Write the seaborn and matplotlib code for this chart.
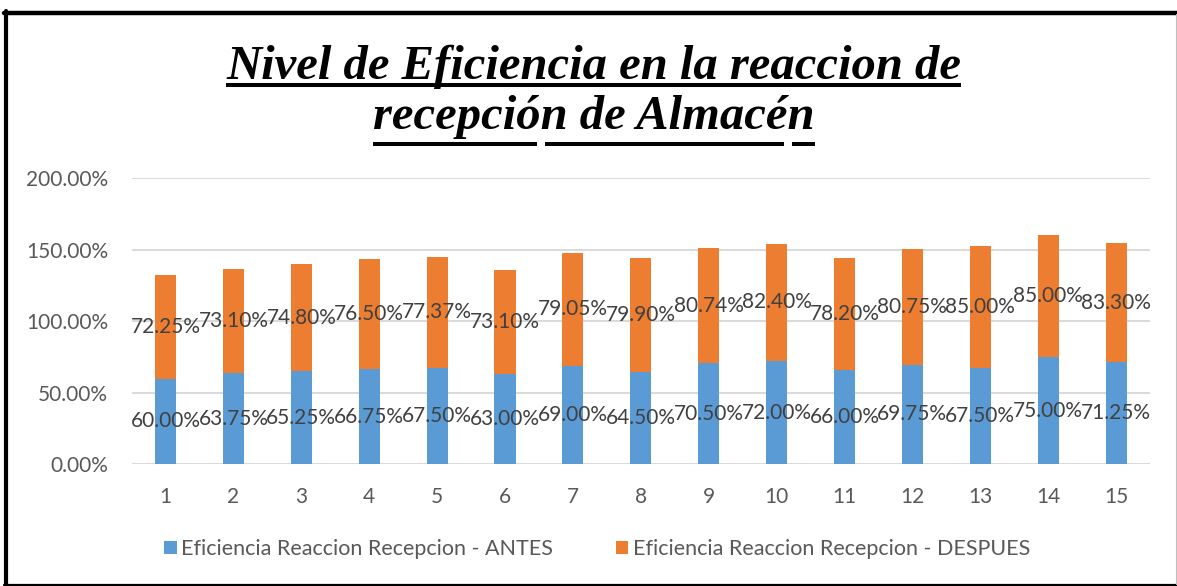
import matplotlib
matplotlib.use("Agg")
import matplotlib.pyplot as plt
import seaborn as sns
import pandas as pd
from matplotlib.patches import Patch
from matplotlib.lines import Line2D

# ---------------- data ----------------
dias = [str(i) for i in range(1, 16)]
antes = [60.00, 63.75, 65.25, 66.75, 67.50, 63.00, 69.00, 64.50, 70.50, 72.00,
         66.00, 69.75, 67.50, 75.00, 71.25]
despues = [72.25, 73.10, 74.80, 76.50, 77.37, 73.10, 79.05, 79.90, 80.74, 82.40,
           78.20, 80.75, 85.00, 85.00, 83.30]
series_antes = "Eficiencia Reaccion Recepcion - ANTES"
series_despues = "Eficiencia Reaccion Recepcion - DESPUES"
title_line1 = "Nivel de Eficiencia en la reaccion de"
title_line2 = "recepción de Almacén"
yticks = [0, 50, 100, 150, 200]

BLUE = "#5B9BD5"
ORANGE = "#ED7D31"
LABEL_C = "#404040"
TICK_C = "#595959"
GRID_C = "#D9D9D9"

sns.set_theme(style="white")
plt.rcParams['font.family'] = ['Lato', 'DejaVu Sans']

df = pd.DataFrame({"dia": dias, "antes": antes, "despues": despues})
df["total"] = df["antes"] + df["despues"]

W, H = 1177, 586
fig = plt.figure(figsize=(W / 100, H / 100), dpi=100)
fig.patch.set_facecolor("white")
ax = fig.add_axes([131.6 / W, 1 - 464.3 / H, (1150 - 131.6) / W, (464.3 - 178.3) / H])

sns.barplot(data=df, x="dia", y="total", order=dias, color=ORANGE, saturation=1,
            width=0.31, errorbar=None, linewidth=0, ax=ax)
sns.barplot(data=df, x="dia", y="antes", order=dias, color=BLUE, saturation=1,
            width=0.31, errorbar=None, linewidth=0, ax=ax)

ax.set_xlim(-0.5, len(dias) - 0.5)
ax.set_ylim(yticks[0], yticks[-1])
ax.set_yticks(yticks)
ax.set_yticklabels([f"{v:.2f}%" for v in yticks])
ax.set_xlabel("")
ax.set_ylabel("")
for s in ax.spines.values():
    s.set_visible(False)
ax.yaxis.grid(True, color=GRID_C, lw=1.4)
ax.set_axisbelow(True)
ax.tick_params(axis="y", length=0, pad=17, labelsize=15, labelcolor=TICK_C)
ax.tick_params(axis="x", length=0, pad=16, labelsize=15, labelcolor=TICK_C)

for i, (a, d) in enumerate(zip(antes, despues)):
    ax.text(i, a / 2, f"{a:.2f}%", ha="center", va="center", fontsize=15, color=LABEL_C)
    ax.text(i, a + d / 2, f"{d:.2f}%", ha="center", va="center", fontsize=15, color=LABEL_C)

# legend
handles = [Patch(facecolor=BLUE, edgecolor="none", label=series_antes),
           Patch(facecolor=ORANGE, edgecolor="none", label=series_despues)]
fig.legend(handles=handles, loc="center", bbox_to_anchor=(597 / W, 1 - 549 / H), ncol=2,
           frameon=False, fontsize=15.5, labelcolor=TICK_C, handlelength=0.6,
           handleheight=0.6, handletextpad=0.2, columnspacing=2.9)

# title
tprops = dict(fontfamily="Liberation Serif", fontweight="bold", fontstyle="italic",
              fontsize=35, color="black")
t1 = fig.text(594 / W, 1 - 79 / H, title_line1, ha="center", va="baseline", **tprops)
t2 = fig.text(594 / W, 1 - 129 / H, title_line2, ha="center", va="baseline", **tprops)

fig.canvas.draw()
r = fig.canvas.get_renderer()
b1 = t1.get_window_extent(r)
b2 = t2.get_window_extent(r)


def uline(x0, x1, ypx):
    fig.add_artist(Line2D([x0 / W, x1 / W], [1 - ypx / H, 1 - ypx / H], color="black",
                          lw=2.9, solid_capstyle="butt", transform=fig.transFigure))


def prefix_w(s, bbox, ybase):
    tt = fig.text(bbox.x0 / W, ybase, s, ha="left", va="baseline", **tprops)
    w = tt.get_window_extent(r).width
    tt.remove()
    return w


uline(b1.x0, b1.x1, 85)
w_a = prefix_w("recepció", b2, 1 - 129 / H)
w_b = prefix_w("recepción de Almacé", b2, 1 - 129 / H)
g = 8
uline(b2.x0, b2.x0 + w_a - g / 2, 143.5)
uline(b2.x0 + w_a + g / 2, b2.x0 + w_b - g / 2, 143.5)
uline(b2.x0 + w_b + g / 2, b2.x1, 143.5)

# border
fig.add_artist(Line2D([6 / W, 6 / W], [1 - 11 / H, 1 - 585 / H], color="black", lw=3,
                      transform=fig.transFigure))
fig.add_artist(Line2D([4 / W, 1.0], [1 - 12.5 / H, 1 - 12.5 / H], color="black", lw=3.2,
                      transform=fig.transFigure))
fig.add_artist(Line2D([4 / W, 1.0], [1 - 584.5 / H, 1 - 584.5 / H], color="black", lw=1.6,
                      transform=fig.transFigure))
fig.add_artist(Line2D([1175.5 / W, 1175.5 / W], [1 - 14 / H, 1 - 584 / H], color="#BFBFBF",
                      lw=0.8, transform=fig.transFigure))

fig.savefig("out.png", dpi=100)
